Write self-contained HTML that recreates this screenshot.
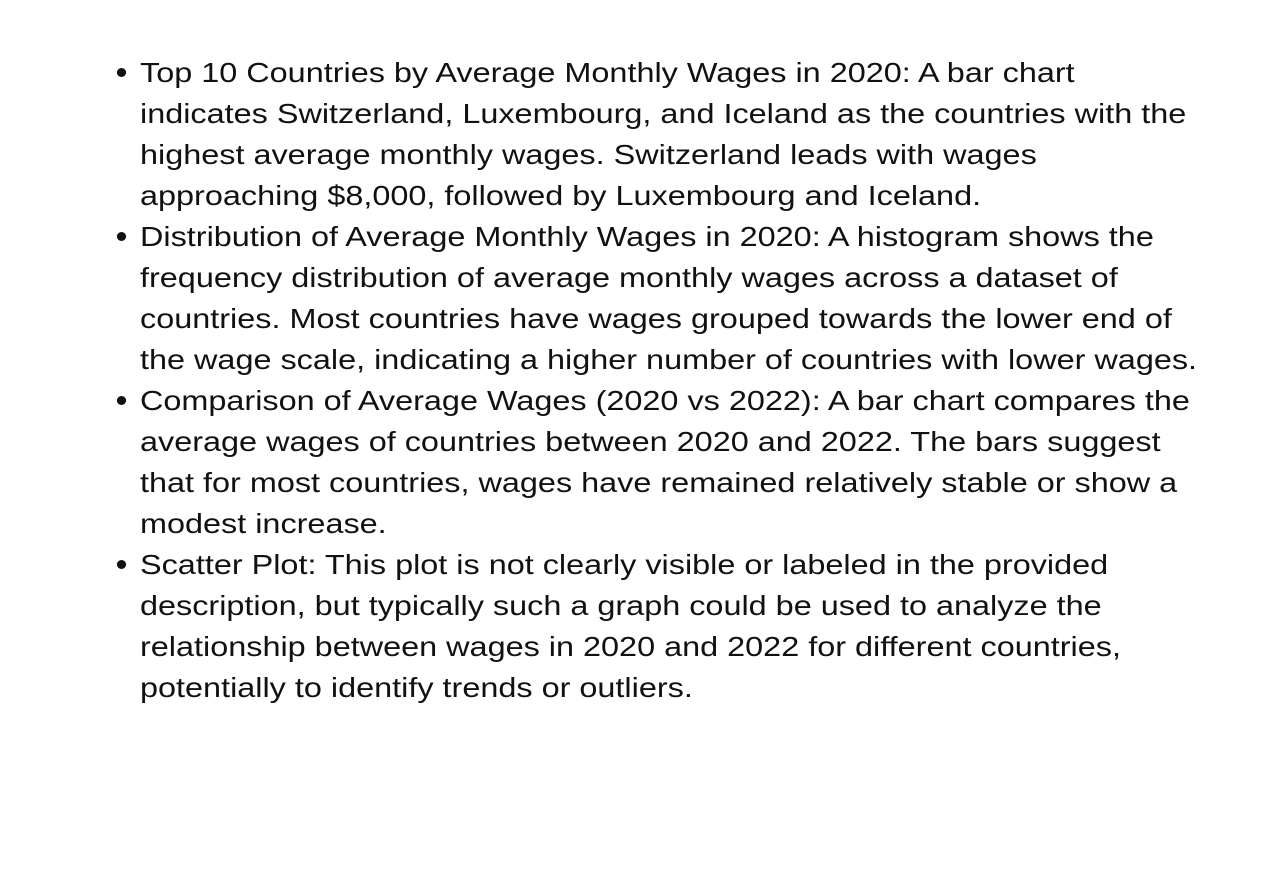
<!DOCTYPE html>
<html>
<head>
<meta charset="utf-8">
<style>
  html, body { margin: 0; padding: 0; background: #ffffff; }
  body { width: 1280px; height: 896px; position: relative; overflow: hidden;
         font-family: "Liberation Sans", "DejaVu Sans", sans-serif; color: #111; }
  ul { position: absolute; left: 140px; top: 52px; margin: 0; padding: 0; list-style: none;
       transform: scaleX(1.157); transform-origin: 0 0; }
  li { position: relative; font-size: 28px; line-height: 41px; white-space: nowrap; }
  li::before { content: ""; position: absolute; left: -20px; top: 16px; width: 8px; height: 9px;
               border-radius: 50%; background: #111; }
</style>
</head>
<body>
<ul>
  <li>Top 10 Countries by Average Monthly Wages in 2020: A bar chart<br>indicates Switzerland, Luxembourg, and Iceland as the countries with the<br>highest average monthly wages. Switzerland leads with wages<br>approaching $8,000, followed by Luxembourg and Iceland.</li>
  <li>Distribution of Average Monthly Wages in 2020: A histogram shows the<br>frequency distribution of average monthly wages across a dataset of<br>countries. Most countries have wages grouped towards the lower end of<br>the wage scale, indicating a higher number of countries with lower wages.</li>
  <li>Comparison of Average Wages (2020 vs 2022): A bar chart compares the<br>average wages of countries between 2020 and 2022. The bars suggest<br>that for most countries, wages have remained relatively stable or show a<br>modest increase.</li>
  <li>Scatter Plot: This plot is not clearly visible or labeled in the provided<br>description, but typically such a graph could be used to analyze the<br>relationship between wages in 2020 and 2022 for different countries,<br>potentially to identify trends or outliers.</li>
</ul>
</body>
</html>
